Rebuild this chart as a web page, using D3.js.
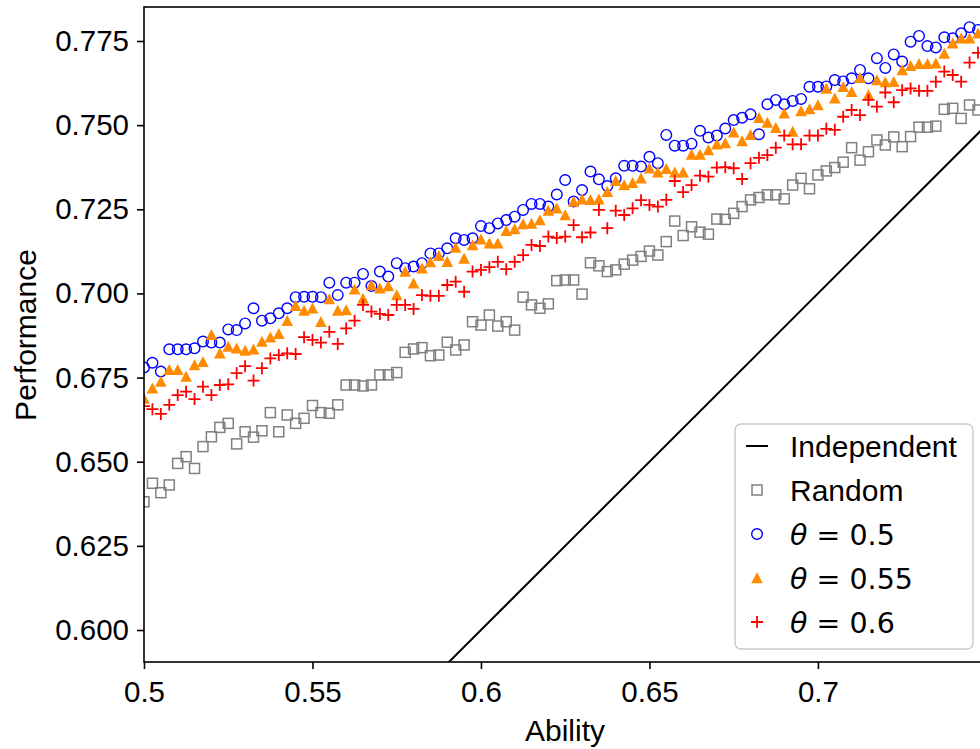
<!DOCTYPE html>
<html>
<head>
<meta charset="utf-8">
<script src="https://cdn.jsdelivr.net/npm/d3@7"></script>
<style>
  html, body { margin: 0; padding: 0; background: #fff; }
  svg { display: block; font-family: "Liberation Sans", Arial, sans-serif; }
</style>
</head>
<body>
<div id="chart"></div>
<script>
// Ability grid, 0.5 .. 0.7475 step 0.0025
const ability = d3.range(100).map(i => +(0.5 + i * 0.0025).toFixed(4));

const randomPerf = [
  .6381, .6436, .6408, .6431, .6495, .6515, .6480, .6545, .6574, .6602,
  .6614, .6553, .6589, .6573, .6592, .6646, .6589, .6639, .6614, .6629,
  .6667, .6646, .6644, .6669, .6728, .6728, .6725, .6728, .6758, .6758,
  .6765, .6825, .6835, .6839, .6815, .6817, .6855, .6832, .6847, .6916,
  .6906, .6936, .6903, .6916, .6891, .6989, .6966, .6956, .6969, .7038,
  .7040, .7040, .6998, .7091, .7082, .7065, .7070, .7087, .7099, .7110,
  .7126, .7114, .7154, .7215, .7172, .7198, .7182, .7176, .7221, .7220,
  .7238, .7258, .7278, .7285, .7293, .7293, .7281, .7322, .7342, .7311,
  .7352, .7364, .7374, .7390, .7433, .7396, .7421, .7456, .7441, .7465,
  .7436, .7466, .7494, .7494, .7497, .7547, .7550, .7520, .7560, .7545
];

const theta050 = [
  .6780, .6794, .6768, .6834, .6834, .6834, .6837, .6857, .6854, .6854,
  .6893, .6891, .6911, .6956, .6919, .6926, .6941, .6956, .6989, .6990,
  .6990, .6989, .7032, .6995, .7032, .7032, .7058, .7022, .7065, .7050,
  .7090, .7075, .7080, .7090, .7119, .7119, .7134, .7164, .7159, .7164,
  .7200, .7194, .7208, .7218, .7228, .7248, .7266, .7266, .7258, .7294,
  .7337, .7273, .7307, .7362, .7339, .7319, .7342, .7379, .7379, .7377,
  .7406, .7387, .7471, .7439, .7439, .7445, .7483, .7463, .7469, .7490,
  .7515, .7522, .7532, .7473, .7562, .7575, .7562, .7572, .7578, .7614,
  .7614, .7615, .7634, .7630, .7639, .7664, .7639, .7699, .7670, .7710,
  .7689, .7748, .7765, .7735, .7731, .7761, .7758, .7773, .7791, .7783
];

const theta055 = [
  .6688, .6718, .6738, .6773, .6773, .6753, .6787, .6797, .6877, .6822,
  .6842, .6837, .6830, .6834, .6857, .6870, .6880, .6919, .6963, .6949,
  .6956, .6916, .6983, .6949, .6951, .7012, .6985, .7025, .7015, .7022,
  .6995, .7065, .7030, .7075, .7093, .7112, .7094, .7136, .7104, .7144,
  .7161, .7149, .7149, .7186, .7191, .7206, .7208, .7218, .7246, .7253,
  .7233, .7273, .7280, .7278, .7280, .7302, .7335, .7322, .7329, .7342,
  .7372, .7360, .7370, .7360, .7360, .7413, .7413, .7426, .7443, .7447,
  .7479, .7453, .7471, .7522, .7508, .7492, .7535, .7481, .7542, .7548,
  .7560, .7609, .7580, .7614, .7599, .7641, .7590, .7634, .7628, .7629,
  .7664, .7676, .7682, .7682, .7684, .7713, .7743, .7758, .7758, .7773
];

const theta060 = [
  .6665, .6656, .6642, .6669, .6698, .6708, .6686, .6723, .6698, .6728,
  .6730, .6763, .6784, .6741, .6778, .6807, .6817, .6822, .6820, .6870,
  .6862, .6854, .6886, .6850, .6896, .6919, .6966, .6946, .6939, .6936,
  .6966, .6966, .6954, .6995, .6993, .6993, .7025, .7035, .7005, .7065,
  .7070, .7078, .7094, .7072, .7094, .7114, .7144, .7141, .7169, .7165,
  .7169, .7203, .7167, .7181, .7248, .7194, .7246, .7233, .7253, .7277,
  .7263, .7258, .7278, .7334, .7301, .7322, .7350, .7347, .7374, .7375,
  .7372, .7340, .7387, .7403, .7411, .7433, .7469, .7443, .7443, .7469,
  .7469, .7489, .7486, .7525, .7545, .7530, .7575, .7555, .7597, .7568,
  .7604, .7609, .7602, .7602, .7629, .7659, .7649, .7629, .7686, .7715
];

const xTicks = [0.5, 0.55, 0.6, 0.65, 0.7];
const xTickLabels = ['0.5', '0.55', '0.6', '0.65', '0.7'];
const yTicks = [0.6, 0.625, 0.65, 0.675, 0.7, 0.725, 0.75, 0.775];
const independentX = [0.5, 0.76];

const W = 980, H = 749;
const plot = { left: 144, top: 7, right: 980, bottom: 662 };

const x = d3.scaleLinear().domain([0.5, 0.7481]).range([plot.left, plot.right]);
const y = d3.scaleLinear().domain([0.5905, 0.7851]).range([plot.bottom, plot.top]);

const svg = d3.select('#chart').append('svg')
  .attr('width', W)
  .attr('height', H);

svg.append('defs').append('clipPath')
  .attr('id', 'clip')
  .append('rect')
  .attr('x', plot.left).attr('y', plot.top)
  .attr('width', plot.right - plot.left + 20)
  .attr('height', plot.bottom - plot.top);

// marker shapes
const tri = 'M0,-5.8L5.8,5.2L-5.8,5.2Z';
const plus = 'M-6,0H6M0,-6V6';

const series = [
  { name: 'Random', values: randomPerf, kind: 'square', color: '#808080' },
  { name: 'θ050', values: theta050, kind: 'circle', color: '#0000ff' },
  { name: 'θ055', values: theta055, kind: 'triangle', color: '#ff8c00' },
  { name: 'θ060', values: theta060, kind: 'plus', color: '#ff0000' }
];

const g = svg.append('g').attr('clip-path', 'url(#clip)');

// Independent line (y = x)
g.append('path')
  .datum(independentX)
  .attr('d', d3.line().x(d => x(d)).y(d => y(d)))
  .attr('stroke', '#000')
  .attr('stroke-width', 2)
  .attr('fill', 'none');

function drawMarker(sel, kind, color) {
  if (kind === 'square') {
    sel.append('rect')
      .attr('x', -5).attr('y', -5).attr('width', 10).attr('height', 10)
      .attr('fill', 'none').attr('stroke', color).attr('stroke-width', 1.5);
  } else if (kind === 'circle') {
    sel.append('circle')
      .attr('r', 5.3)
      .attr('fill', 'none').attr('stroke', color).attr('stroke-width', 1.4);
  } else if (kind === 'triangle') {
    sel.append('path').attr('d', tri).attr('fill', color);
  } else {
    sel.append('path').attr('d', plus)
      .attr('fill', 'none').attr('stroke', color).attr('stroke-width', 1.8);
  }
}

series.forEach(s => {
  const pts = g.append('g').selectAll('g')
    .data(s.values)
    .enter()
    .append('g')
    .attr('transform', (d, i) => `translate(${x(ability[i])},${y(d)})`);
  pts.each(function () { drawMarker(d3.select(this), s.kind, s.color); });
});

// Frame
svg.append('rect')
  .attr('x', plot.left).attr('y', plot.top)
  .attr('width', plot.right - plot.left + 20)
  .attr('height', plot.bottom - plot.top)
  .attr('fill', 'none').attr('stroke', '#000').attr('stroke-width', 1.6);

// Axes
const xAxis = svg.append('g')
  .attr('transform', `translate(0,${plot.bottom})`)
  .call(d3.axisBottom(x).tickValues(xTicks).tickFormat((d, i) => xTickLabels[i]).tickSize(7).tickPadding(12));
const yAxis = svg.append('g')
  .attr('transform', `translate(${plot.left},0)`)
  .call(d3.axisLeft(y).tickValues(yTicks).tickFormat(d3.format('.3f')).tickSize(7).tickPadding(8));

[xAxis, yAxis].forEach(a => {
  a.select('.domain').remove();
  a.selectAll('line').attr('stroke', '#000').attr('stroke-width', 1.6);
  a.selectAll('text')
    .attr('fill', '#000')
    .style('font-family', '"Liberation Sans", Arial, sans-serif')
    .style('font-size', '29.5px');
});

svg.append('text')
  .attr('x', 565)
  .attr('y', 741)
  .attr('text-anchor', 'middle')
  .style('font-size', '30px')
  .text('Ability');

svg.append('text')
  .attr('transform', 'translate(36,335) rotate(-90)')
  .attr('text-anchor', 'middle')
  .style('font-size', '30px')
  .text('Performance');

// Legend
const legend = svg.append('g').attr('transform', 'translate(735,424)');
legend.append('rect')
  .attr('width', 238).attr('height', 225)
  .attr('rx', 6)
  .attr('fill', 'rgba(255,255,255,0.8)')
  .attr('stroke', '#cccccc').attr('stroke-width', 1.5);

const legendItems = [
  { kind: 'line', color: '#000', label: 'Independent' },
  { kind: 'square', color: '#808080', label: 'Random' },
  { kind: 'circle', color: '#0000ff', theta: '0.5' },
  { kind: 'triangle', color: '#ff8c00', theta: '0.55' },
  { kind: 'plus', color: '#ff0000', theta: '0.6' }
];

legendItems.forEach((d, i) => {
  const row = legend.append('g').attr('transform', `translate(0,${22 + i * 44})`);
  const m = row.append('g').attr('transform', 'translate(22,0)');
  if (d.kind === 'line') {
    m.append('line').attr('x1', -11).attr('x2', 11)
      .attr('stroke', d.color).attr('stroke-width', 2);
  } else {
    drawMarker(m, d.kind, d.color);
  }
  const t = row.append('text')
    .attr('x', 55).attr('y', 11)
    .style('font-size', '30px');
  if (d.label) {
    t.text(d.label);
  } else {
    t.style('font-family', '"DejaVu Sans", sans-serif').style('font-size', '28.5px');
    t.append('tspan').style('font-style', 'italic').text('θ');
    t.append('tspan').text(' = ' + d.theta);
  }
});
</script>
</body>
</html>
